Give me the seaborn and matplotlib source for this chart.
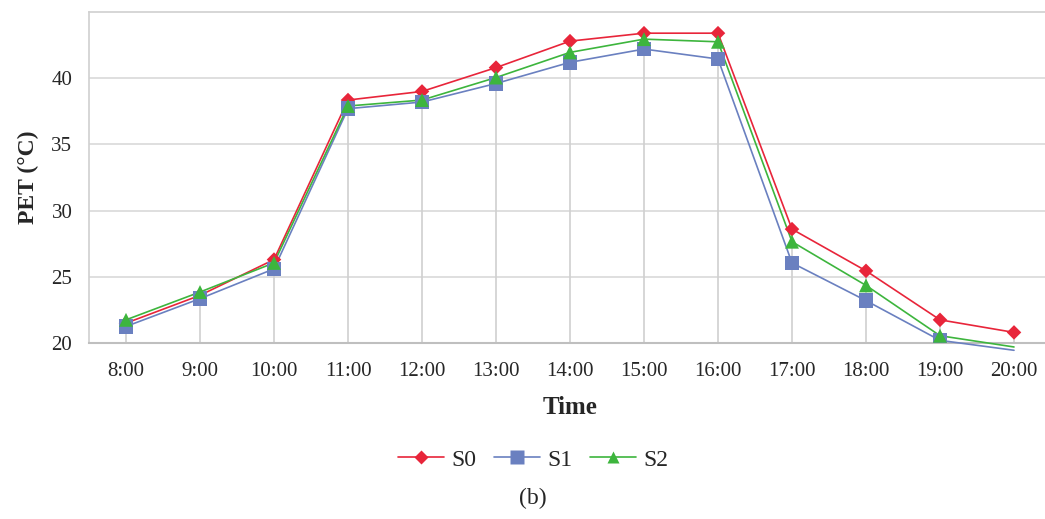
import numpy as np
import pandas as pd
import matplotlib
matplotlib.use("Agg")
import matplotlib.pyplot as plt
from matplotlib.lines import Line2D
import seaborn as sns

times = ["8:00", "9:00", "10:00", "11:00", "12:00", "13:00", "14:00",
         "15:00", "16:00", "17:00", "18:00", "19:00", "20:00"]
s0 = [21.5, 23.6, 26.3, 38.35, 39.0, 40.8, 42.8, 43.4, 43.4, 28.6, 25.45, 21.75, 20.8]
s1 = [21.25, 23.35, 25.6, 37.7, 38.2, 39.6, 41.2, 42.2, 41.45, 26.05, 23.2, 20.2, 19.45]
s2 = [21.75, 23.85, 26.05, 37.9, 38.35, 40.05, 41.95, 42.95, 42.75, 27.65, 24.35, 20.55, 19.7]

series_names = ["S0", "S1", "S2"]
colors = {"S0": "#E8253A", "S1": "#6A80C0", "S2": "#3DB53D"}
markers = {"S0": "D", "S1": "s", "S2": "^"}
msize = {"S0": 55, "S1": 110, "S2": 100}

y_min, y_max = 20, 45

pos = np.arange(len(times))
df = pd.DataFrame({
    "pos": np.tile(pos, 3),
    "value": s0 + s1 + s2,
    "series": np.repeat(series_names, len(times)),
})

sns.set_style("white")
plt.rcParams["font.family"] = ["Liberation Serif", "DejaVu Serif"]

fig = plt.figure(figsize=(10.45, 5.19), dpi=100)
ax = fig.add_axes([89 / 1045, 1 - 343 / 519, 962 / 1045, 331 / 519])

# drop lines from highest series to axis
top_vals = df.groupby("pos")["value"].max().values
ax.vlines(pos, y_min, top_vals, color="#d0d0d0", linewidth=1.2, zorder=1)

sns.lineplot(data=df, x="pos", y="value", hue="series", palette=colors,
             linewidth=1.2, legend=False, ax=ax, zorder=3)
for ln in ax.lines:
    ln.set_clip_on(False)

mdf = df[df["value"] >= y_min]
for name in series_names:
    sub = mdf[mdf["series"] == name]
    sns.scatterplot(data=sub, x="pos", y="value", color=colors[name],
                    marker=markers[name], s=msize[name], edgecolor="none",
                    legend=False, ax=ax, zorder=4)

ax.set_xlim(-0.5, len(times) - 0.5)
ax.set_ylim(y_min, y_max)
ax.set_xticks(pos)
ax.set_xticklabels(times, fontsize=15)
ax.set_yticks([20, 25, 30, 35, 40])
ax.set_yticklabels(["20", "25", "30", "35", "40"], fontsize=15)
ax.tick_params(axis="both", length=0)
ax.tick_params(axis="x", pad=14)
ax.tick_params(axis="y", pad=12)
ax.yaxis.grid(True, color="#d9d9d9", linewidth=1.2)
ax.set_axisbelow(True)
for side in ["left", "top"]:
    ax.spines[side].set_color("#d0d0d0")
    ax.spines[side].set_linewidth(1.2)
ax.spines["right"].set_visible(False)
ax.spines["bottom"].set_color("#bfbfbf")
ax.spines["bottom"].set_linewidth(1.5)
ax.set_xlabel("")
ax.set_ylabel("PET (°C)", fontsize=17, fontweight="bold", labelpad=9)

fig.text(570 / 1045, 1 - 407 / 519, "Time", ha="center", va="center",
         fontsize=18, fontweight="bold")

handles = [Line2D([0], [0], color=colors[n], linewidth=1.2, marker=markers[n],
                  markersize={"S0": 7, "S1": 10, "S2": 8.5}[n],
                  markeredgecolor="none") for n in series_names]
fig.legend(handles, series_names, loc="center", ncol=3,
           bbox_to_anchor=(533 / 1045, 1 - 460 / 519), frameon=False,
           fontsize=17, handlelength=1.95, columnspacing=0.75, handletextpad=0.3)

fig.text(533 / 1045, 1 - 498 / 519, "(b)", ha="center", va="center", fontsize=17)

fig.savefig("out.png", dpi=100)
